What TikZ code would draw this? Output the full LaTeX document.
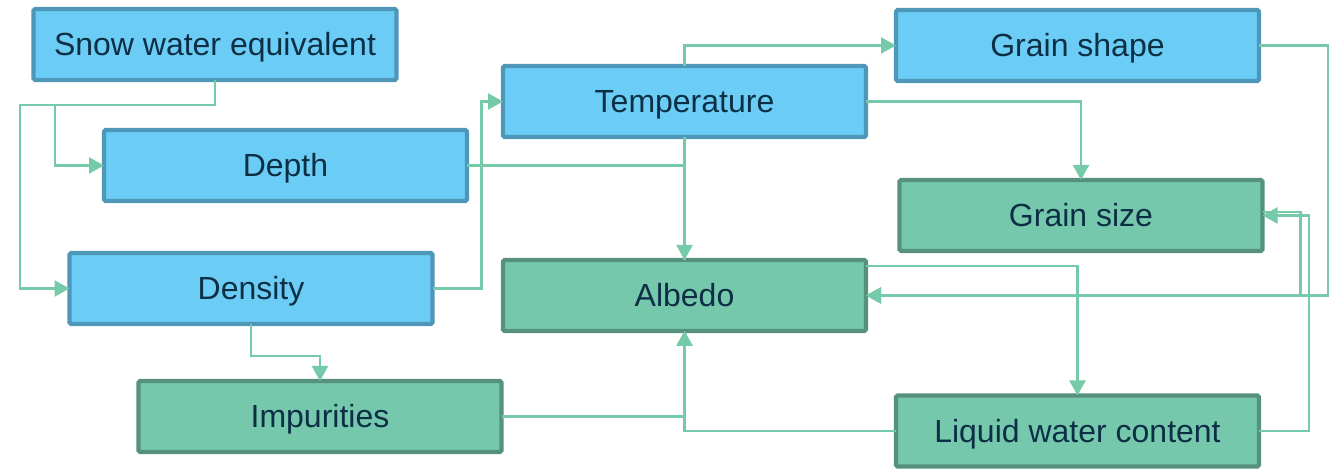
\documentclass[tikz,border=0pt]{standalone}
\usepackage{fontspec}
\setmainfont{Liberation Sans}
\usetikzlibrary{arrows.meta}

\definecolor{blueFill}{HTML}{6BCDF5}
\definecolor{blueEdge}{HTML}{4F97B8}
\definecolor{greenFill}{HTML}{76C8AD}
\definecolor{greenEdge}{HTML}{56917D}
\definecolor{linkCol}{HTML}{75CAA9}
\definecolor{labelCol}{HTML}{0D2F45}

\tikzset{
  box/.style={rectangle, rounded corners=0.8pt, line width=2.1pt,
    minimum width=181.5pt, minimum height=35.5pt, inner sep=0pt, outer sep=0pt,
    text height=11.4pt, text depth=0pt,
    text=labelCol, font=\fontsize{16}{19}\selectfont},
  inbox/.style={box, draw=blueEdge, fill=blueFill},
  outbox/.style={box, draw=greenEdge, fill=greenFill},
  conn/.style={draw=linkCol, line width=1.1pt},
  arr/.style={conn, -{Triangle[length=7.5pt,width=8pt]}}
}

\begin{document}
\begin{tikzpicture}[x=0.5pt, y=-0.5pt]
  \useasboundingbox (0,0) rectangle (1334,469);

  % quantities
  \node[inbox]  (swe)    at (215,44.5)    {Snow water equivalent};
  \node[inbox]  (depth)  at (285.5,165.5) {Depth};
  \node[inbox]  (dens)   at (251,288.5)   {Density};
  \node[outbox] (imp)    at (320,416.5)   {Impurities};
  \node[inbox]  (temp)   at (684.5,101.5) {Temperature};
  \node[outbox] (alb)    at (684.5,295.5) {Albedo};
  \node[inbox]  (gshape) at (1077.5,45.5) {Grain shape};
  \node[outbox] (gsize)  at (1081,215.5)  {Grain size};
  \node[outbox] (lwc)    at (1077.5,431)  {Liquid water content};

  % snow water equivalent feeds depth and density
  \coordinate (sweL) at (20,105);
  \coordinate (sweB) at (55,105);
  \draw[arr] (swe.south) |- (sweL) |- (dens.west);
  \draw[arr] (sweB) |- (depth.west);

  % density
  \draw[arr] (dens.east) -- ++(49,0) |- (temp.west);
  \draw[arr] (dens.south) -- ++(0,32) -| (imp.north);

  % temperature
  \draw[arr] (temp.south) -- (alb.north);
  \draw[arr] (temp.north) |- (gshape.west);
  \draw[arr] (temp.east) -| (gsize.north);

  % depth joins the temperature line into albedo
  \draw[conn] (depth.east) -| (alb.north);

  % grain properties back into albedo
  \draw[arr] (gshape.east) -- ++(69,0) |- (alb.east);
  \draw[arr] ([yshift=1.75pt]gsize.east) -- ++(38,0) |- (alb.east);

  % liquid water content
  \draw[arr] ([yshift=14.75pt]alb.east) -| (lwc.north);
  \draw[arr] (lwc.east) -- ++(50,0) |- (gsize.east);
  \draw[arr] (lwc.west) -| (alb.south);

  % impurities
  \draw[arr] (imp.east) -| (alb.south);
\end{tikzpicture}
\end{document}
